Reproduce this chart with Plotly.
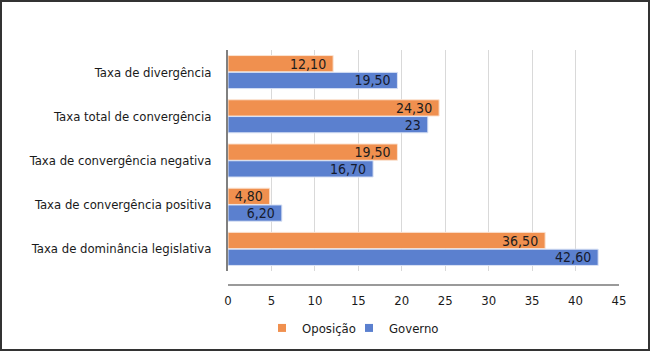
import plotly.graph_objects as go

categories = ["Taxa de divergência", "Taxa total de convergência",
              "Taxa de convergência negativa", "Taxa de convergência positiva",
              "Taxa de dominância legislativa"]
oposicao = [12.10, 24.30, 19.50, 4.80, 36.50]
oposicao_labels = ["12,10", "24,30", "19,50", "4,80", "36,50"]
governo = [19.50, 23.0, 16.70, 6.20, 42.60]
governo_labels = ["19,50", "23", "16,70", "6,20", "42,60"]
x_ticks = [0, 5, 10, 15, 20, 25, 30, 35, 40, 45]

W, H = 650, 351
L, R, T, B = 228, 31, 50, 80
pw, ph = W - L - R, H - T - B

FONT = "DejaVu Sans Condensed, Liberation Sans Narrow, sans-serif"
ORANGE, BLUE = "#F0904F", "#5B80CF"

fig = go.Figure()
fig.add_trace(go.Bar(
    y=categories, x=oposicao, orientation="h", name="Oposição", showlegend=False,
    marker=dict(color=ORANGE, line=dict(color="#fbe3d2", width=1)),
    text=oposicao_labels, texttemplate="%{text}\u00a0", textposition="inside",
    insidetextanchor="end", constraintext="none", textangle=0,
    textfont=dict(color="#1c1c1c", size=14, family=FONT), cliponaxis=False,
))
fig.add_trace(go.Bar(
    y=categories, x=governo, orientation="h", name="Governo", showlegend=False,
    marker=dict(color=BLUE, line=dict(color="#dbe3f5", width=1)),
    text=governo_labels, texttemplate="%{text}\u00a0", textposition="inside",
    insidetextanchor="end", constraintext="none", textangle=0,
    textfont=dict(color="#151a2e", size=14, family=FONT), cliponaxis=False,
))
# legend entries with small square symbols
for name, col in [("Oposição", ORANGE), ("Governo", BLUE)]:
    fig.add_trace(go.Scatter(x=[None], y=[None], mode="markers", name=name,
                             marker=dict(symbol="square", size=8, color=col)))
# invisible spacer entry so the last visible legend label is not clipped
fig.add_trace(go.Scatter(x=[None], y=[None], mode="markers", name="\u00a0",
                         marker=dict(symbol="square", size=1, color="rgba(0,0,0,0)")))

# paper coordinates for the outer border
px0 = (1 - L) / pw
px1 = (W - 1 - L) / pw
py0 = -(H - 1 - T - ph) / ph
py1 = 1 + (T - 1) / ph
fig.add_shape(type="rect", xref="paper", yref="paper", x0=px0, x1=px1, y0=py0, y1=py1,
              line=dict(color="#333333", width=2), fillcolor="rgba(0,0,0,0)", layer="above")
# detached x axis line
fig.add_shape(type="line", xref="x", yref="paper", x0=0, x1=45, y0=-14 / ph, y1=-14 / ph,
              line=dict(color="#9a9a9a", width=2))

fig.update_layout(
    width=W, height=H,
    margin=dict(l=L, r=R, t=T, b=B, autoexpand=False),
    paper_bgcolor="white", plot_bgcolor="white",
    barmode="group", bargap=0.24, bargroupgap=0.03,
    font=dict(family=FONT, size=13, color="#1a1a1a"),
    showlegend=True,
    legend=dict(orientation="h", x=(262 - L) / pw, xanchor="left", y=-0.19, yanchor="top",
                font=dict(size=13, family=FONT, color="#1a1a1a"),
                bgcolor="rgba(0,0,0,0)",
                itemwidth=30, traceorder="normal", entrywidth=42,
                tracegroupgap=0, itemclick=False, itemdoubleclick=False),
    xaxis=dict(range=[0, 45], tickvals=x_ticks, ticktext=[str(v) for v in x_ticks],
               showgrid=True, gridcolor="#d9d9d9", gridwidth=1, zeroline=False,
               showline=False, ticks="", ticklabelstandoff=20, automargin=False,
               tickfont=dict(size=13, family=FONT, color="#1a1a1a")),
    yaxis=dict(autorange="reversed", showline=True, linecolor="#808080", linewidth=2,
               ticks="", ticklabelstandoff=12, showgrid=False, automargin=False,
               tickfont=dict(size=13, family=FONT, color="#1a1a1a")),
)

fig.write_html("out.html", config={"displayModeBar": False},
               post_script="document.body.style.margin='0';document.body.style.overflow='hidden';")
